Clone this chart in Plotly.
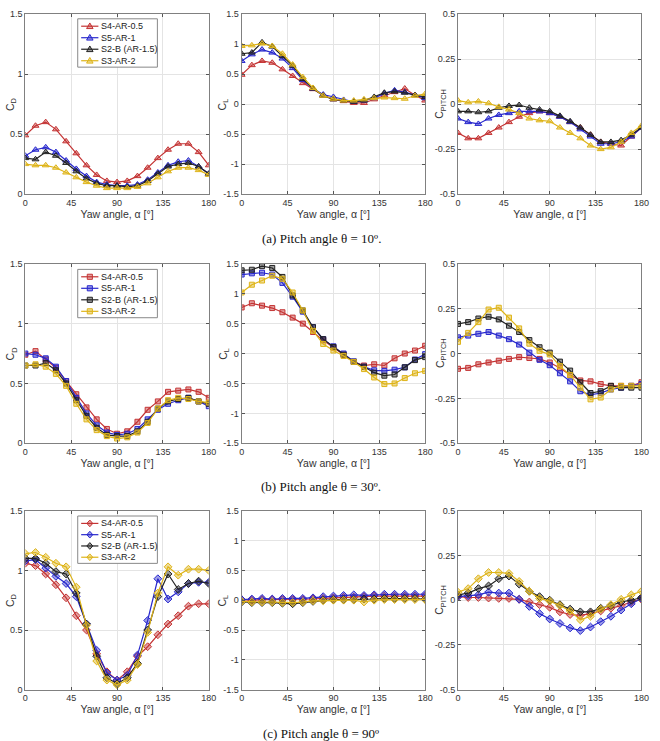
import plotly.graph_objects as go

# ---------------- data ----------------
yaw = [0, 10, 20, 30, 40, 50, 60, 70, 80, 90, 100, 110, 120, 130, 140, 150, 160, 170, 180]
series_names = ["S4-AR-0.5", "S5-AR-1", "S2-B (AR-1.5)", "S3-AR-2"]
x_ticks = [0, 45, 90, 135, 180]
cd_ticks = [0, 0.5, 1, 1.5]
cl_ticks = [-1.5, -1, -0.5, 0, 0.5, 1, 1.5]
cp_ticks = [-0.5, -0.25, 0, 0.25, 0.5]
captions = ["(a) Pitch angle θ = 10º.", "(b) Pitch angle θ = 30º.", "(c) Pitch angle θ = 90º"]

# Pitch 10 deg
cd10_s4 = [0.49, 0.57, 0.60, 0.54, 0.44, 0.34, 0.24, 0.16, 0.11, 0.10, 0.11, 0.15, 0.22, 0.30, 0.37, 0.42, 0.42, 0.35, 0.24]
cd10_s5 = [0.32, 0.37, 0.39, 0.35, 0.28, 0.21, 0.15, 0.10, 0.08, 0.07, 0.07, 0.08, 0.12, 0.18, 0.24, 0.27, 0.28, 0.23, 0.17]
cd10_s2 = [0.30, 0.29, 0.35, 0.32, 0.26, 0.19, 0.13, 0.09, 0.07, 0.07, 0.06, 0.07, 0.11, 0.17, 0.23, 0.25, 0.26, 0.23, 0.17]
cd10_s3 = [0.25, 0.24, 0.24, 0.22, 0.18, 0.14, 0.10, 0.07, 0.05, 0.05, 0.05, 0.06, 0.09, 0.14, 0.19, 0.22, 0.22, 0.20, 0.16]

cl10_s4 = [0.49, 0.65, 0.72, 0.69, 0.58, 0.47, 0.35, 0.25, 0.15, 0.08, 0.05, 0.02, 0.02, 0.08, 0.15, 0.20, 0.26, 0.15, 0.06]
cl10_s5 = [0.72, 0.83, 0.91, 0.86, 0.76, 0.60, 0.40, 0.26, 0.16, 0.12, 0.07, 0.04, 0.06, 0.10, 0.18, 0.23, 0.20, 0.15, 0.10]
cl10_s2 = [0.84, 0.86, 1.03, 0.96, 0.80, 0.64, 0.42, 0.26, 0.14, 0.08, 0.06, 0.04, 0.06, 0.12, 0.19, 0.21, 0.19, 0.15, 0.12]
cl10_s3 = [0.97, 0.98, 1.01, 0.97, 0.84, 0.66, 0.45, 0.27, 0.14, 0.09, 0.06, 0.06, 0.08, 0.10, 0.11, 0.10, 0.09, 0.14, 0.17]

cp10_s4 = [-0.16, -0.19, -0.19, -0.16, -0.13, -0.10, -0.07, -0.05, -0.04, -0.05, -0.07, -0.10, -0.13, -0.17, -0.21, -0.22, -0.23, -0.18, -0.13]
cp10_s5 = [-0.08, -0.10, -0.11, -0.08, -0.06, -0.05, -0.04, -0.04, -0.04, -0.05, -0.07, -0.10, -0.14, -0.18, -0.22, -0.22, -0.21, -0.18, -0.13]
cp10_s2 = [-0.04, -0.04, -0.045, -0.04, -0.02, -0.01, -0.005, -0.02, -0.03, -0.04, -0.065, -0.095, -0.13, -0.17, -0.21, -0.21, -0.20, -0.17, -0.13]
cp10_s3 = [0.02, 0.01, 0.015, 0.005, -0.015, -0.03, -0.05, -0.08, -0.09, -0.095, -0.13, -0.16, -0.19, -0.23, -0.25, -0.24, -0.21, -0.16, -0.12]

# Pitch 30 deg
cd30_s4 = [0.74, 0.77, 0.70, 0.63, 0.52, 0.41, 0.30, 0.20, 0.12, 0.08, 0.10, 0.18, 0.28, 0.35, 0.43, 0.44, 0.45, 0.43, 0.38]
cd30_s5 = [0.75, 0.74, 0.71, 0.64, 0.52, 0.38, 0.25, 0.15, 0.09, 0.07, 0.08, 0.12, 0.20, 0.28, 0.33, 0.36, 0.38, 0.35, 0.31]
cd30_s2 = [0.65, 0.65, 0.67, 0.61, 0.50, 0.36, 0.23, 0.13, 0.07, 0.06, 0.06, 0.10, 0.18, 0.29, 0.35, 0.37, 0.38, 0.35, 0.33]
cd30_s3 = [0.65, 0.66, 0.64, 0.58, 0.48, 0.33, 0.20, 0.11, 0.06, 0.04, 0.05, 0.09, 0.17, 0.29, 0.36, 0.38, 0.37, 0.35, 0.34]

cl30_s4 = [0.77, 0.84, 0.80, 0.76, 0.69, 0.60, 0.50, 0.36, 0.22, 0.10, -0.02, -0.14, -0.20, -0.18, -0.20, -0.08, 0.00, 0.05, 0.13]
cl30_s5 = [1.32, 1.34, 1.35, 1.32, 1.18, 0.95, 0.70, 0.44, 0.24, 0.12, 0.00, -0.13, -0.22, -0.28, -0.29, -0.27, -0.23, -0.10, -0.01]
cl30_s2 = [1.39, 1.40, 1.46, 1.43, 1.28, 0.97, 0.72, 0.44, 0.24, 0.11, -0.02, -0.14, -0.22, -0.32, -0.37, -0.35, -0.23, -0.11, -0.06]
cl30_s3 = [1.02, 1.15, 1.22, 1.30, 1.25, 1.02, 0.72, 0.38, 0.16, 0.05, -0.04, -0.14, -0.26, -0.40, -0.51, -0.50, -0.41, -0.33, -0.29]

cp30_s4 = [-0.085, -0.08, -0.06, -0.05, -0.04, -0.03, -0.02, -0.025, -0.03, -0.05, -0.08, -0.12, -0.15, -0.155, -0.17, -0.18, -0.18, -0.18, -0.16]
cp30_s5 = [0.09, 0.10, 0.11, 0.12, 0.10, 0.08, 0.05, 0.005, -0.035, -0.065, -0.11, -0.155, -0.21, -0.23, -0.22, -0.20, -0.19, -0.18, -0.17]
cp30_s2 = [0.165, 0.175, 0.195, 0.205, 0.19, 0.155, 0.12, 0.075, 0.035, 0.005, -0.045, -0.095, -0.16, -0.22, -0.21, -0.18, -0.19, -0.19, -0.19]
cp30_s3 = [0.065, 0.115, 0.175, 0.245, 0.255, 0.20, 0.14, 0.055, 0.015, -0.005, -0.07, -0.12, -0.19, -0.255, -0.245, -0.20, -0.18, -0.18, -0.18]

# Pitch 90 deg
cd90_s4 = [1.06, 1.04, 0.97, 0.88, 0.77, 0.62, 0.50, 0.30, 0.15, 0.08, 0.15, 0.28, 0.36, 0.46, 0.55, 0.62, 0.70, 0.72, 0.72]
cd90_s5 = [1.08, 1.09, 1.02, 0.95, 0.89, 0.78, 0.55, 0.33, 0.14, 0.08, 0.12, 0.29, 0.58, 0.93, 0.76, 0.82, 0.89, 0.90, 0.90]
cd90_s2 = [1.10, 1.10, 1.06, 0.99, 0.97, 0.81, 0.55, 0.28, 0.10, 0.05, 0.10, 0.22, 0.50, 0.78, 0.97, 0.84, 0.89, 0.91, 0.89]
cd90_s3 = [1.14, 1.15, 1.11, 1.06, 1.03, 0.86, 0.54, 0.24, 0.08, 0.04, 0.08, 0.21, 0.48, 0.81, 1.03, 0.96, 1.01, 1.01, 1.00]

cl90_s4 = [0.01, 0.00, 0.01, 0.01, 0.01, 0.01, 0.01, 0.02, 0.03, 0.04, 0.05, 0.05, 0.06, 0.07, 0.07, 0.07, 0.07, 0.07, 0.07]
cl90_s5 = [0.01, 0.02, 0.03, 0.02, 0.03, 0.03, 0.03, 0.04, 0.06, 0.07, 0.08, 0.09, 0.08, 0.09, 0.10, 0.10, 0.10, 0.10, 0.10]
cl90_s2 = [-0.03, -0.04, -0.04, -0.04, -0.05, -0.06, -0.04, -0.02, 0.00, 0.01, 0.01, 0.01, 0.02, 0.02, 0.03, 0.03, 0.03, 0.03, 0.02]
cl90_s3 = [-0.02, -0.03, -0.03, -0.03, -0.04, -0.04, -0.03, -0.01, -0.01, 0.00, 0.00, 0.00, -0.03, 0.00, 0.01, 0.01, 0.01, 0.01, 0.01]

cp90_s4 = [0.02, 0.015, 0.015, 0.012, 0.01, 0.01, 0.005, -0.01, -0.025, -0.04, -0.065, -0.08, -0.085, -0.075, -0.06, -0.045, -0.03, -0.01, 0.005]
cp90_s5 = [0.02, 0.025, 0.03, 0.045, 0.04, 0.04, 0.005, -0.035, -0.075, -0.105, -0.13, -0.155, -0.17, -0.15, -0.12, -0.09, -0.055, -0.02, 0.01]
cp90_s2 = [0.03, 0.04, 0.065, 0.08, 0.12, 0.135, 0.09, 0.05, 0.02, 0.0, -0.025, -0.05, -0.065, -0.065, -0.045, -0.03, -0.01, 0.0, 0.015]
cp90_s3 = [0.045, 0.065, 0.12, 0.155, 0.155, 0.15, 0.105, 0.05, 0.01, -0.005, -0.03, -0.06, -0.11, -0.09, -0.05, -0.025, 0.005, 0.03, 0.05]

# ---------------- styling ----------------
line_colors = ["rgb(196,52,52)", "rgb(40,40,205)", "rgb(35,35,35)", "rgb(222,180,25)"]
fill_colors = ["rgba(196,52,52,0.45)", "rgba(40,40,205,0.45)", "rgba(35,35,35,0.45)", "rgba(222,180,25,0.45)"]
row_symbols = ["triangle-up", "square", "diamond"]
row_msize = [6, 5, 6]

grid = [
    [[cd10_s4, cd10_s5, cd10_s2, cd10_s3], [cl10_s4, cl10_s5, cl10_s2, cl10_s3], [cp10_s4, cp10_s5, cp10_s2, cp10_s3]],
    [[cd30_s4, cd30_s5, cd30_s2, cd30_s3], [cl30_s4, cl30_s5, cl30_s2, cl30_s3], [cp30_s4, cp30_s5, cp30_s2, cp30_s3]],
    [[cd90_s4, cd90_s5, cd90_s2, cd90_s3], [cl90_s4, cl90_s5, cl90_s2, cl90_s3], [cp90_s4, cp90_s5, cp90_s2, cp90_s3]],
]

W, H = 660, 741
col_px = [(22.7, 209.3), (242.7, 429.3), (462.7, 649.3)]
row_px = [(9.3, 191.7), (262.3, 444.3), (512.7, 694.0)]
ytitle_x_px = [8, 224, 445]
legend_box_px = [(76, 14, 157, 63), (76, 268, 157, 317), (76, 518, 157, 566)]
caption_px = [237, 488, 738]

y_titles = ["C<sub>D</sub>", "C<sub>L</sub>", "C<sub>PITCH</sub>"]
y_ranges = [[0, 1.5], [-1.5, 1.5], [-0.5, 0.5]]
y_tickvals = [cd_ticks, cl_ticks, cp_ticks]
y_ticktext = [["0", "0.5", "1", "1.5"],
              ["-1.5", "-1", "-0.5", "0", "0.5", "1", "1.5"],
              ["-0.5", "-0.25", "0", "0.25", "0.5"]]

font_family = "Arial, Liberation Sans, sans-serif"


def px(x):
    return x / W


def py(y):
    return 1 - y / H


def marker_path(sym, cx, cy):
    if sym == "triangle-up":
        pts = [(cx, cy - 3.3), (cx - 3.3, cy + 2.4), (cx + 3.3, cy + 2.4)]
    elif sym == "square":
        pts = [(cx - 2.6, cy - 2.6), (cx + 2.6, cy - 2.6), (cx + 2.6, cy + 2.6), (cx - 2.6, cy + 2.6)]
    else:
        pts = [(cx, cy - 3.4), (cx + 3.0, cy), (cx, cy + 3.4), (cx - 3.0, cy)]
    return "M " + " L ".join(f"{px(a):.5f},{py(b):.5f}" for a, b in pts) + " Z"


fig = go.Figure()
layout = dict(
    width=W, height=H, margin=dict(l=0, r=0, t=0, b=0),
    paper_bgcolor="white", plot_bgcolor="white",
    font=dict(family=font_family, size=9, color="#333"),
    showlegend=False,
    annotations=[], shapes=[],
)

for r in range(3):
    for c in range(3):
        idx = r * 3 + c + 1
        xa = "x" if idx == 1 else f"x{idx}"
        ya = "y" if idx == 1 else f"y{idx}"
        for s in range(4):
            fig.add_trace(go.Scatter(
                x=yaw, y=grid[r][c][s], mode="lines+markers",
                name=series_names[s],
                xaxis=xa, yaxis=ya,
                line=dict(color=line_colors[s], width=1.2),
                marker=dict(symbol=row_symbols[r], size=row_msize[r], color=fill_colors[s],
                            line=dict(color=line_colors[s], width=1)),
                showlegend=False,
            ))
        x0, x1 = col_px[c]
        t, b = row_px[r]
        xkey = "xaxis" if idx == 1 else f"xaxis{idx}"
        ykey = "yaxis" if idx == 1 else f"yaxis{idx}"
        layout[xkey] = dict(
            domain=[px(x0), px(x1)], anchor=ya, range=[0, 180],
            tickvals=x_ticks, ticks="inside", ticklen=3, tickcolor="#555",
            showline=True, linecolor="#808080", linewidth=1, mirror="ticks",
            showgrid=True, gridcolor="#e4e4e4", gridwidth=1, zeroline=False,
            tickfont=dict(size=9, color="#333"),
            title=dict(text="Yaw angle, α [°]", font=dict(size=10.5, color="#333"), standoff=2),
        )
        layout[ykey] = dict(
            domain=[py(b), py(t)], anchor=xa, range=y_ranges[c],
            tickvals=y_tickvals[c], ticktext=y_ticktext[c],
            ticks="inside", ticklen=3, tickcolor="#555",
            showline=True, linecolor="#808080", linewidth=1, mirror="ticks",
            showgrid=True, gridcolor="#e4e4e4", gridwidth=1, zeroline=False,
            tickfont=dict(size=9, color="#333"),
        )
        layout["annotations"].append(dict(
            text=y_titles[c], x=px(ytitle_x_px[c]), y=py((t + b) / 2),
            xref="paper", yref="paper", xanchor="center", yanchor="middle",
            textangle=-90, showarrow=False,
            font=dict(size=10.5, color="#333", family=font_family),
        ))

    # legend box for this row (drawn in the first column)
    lx0, ly0, lx1, ly1 = legend_box_px[r]
    layout["shapes"].append(dict(
        type="rect", xref="paper", yref="paper",
        x0=px(lx0), x1=px(lx1), y0=py(ly1), y1=py(ly0),
        fillcolor="white", line=dict(color="#888", width=1), layer="above",
    ))
    step = (ly1 - ly0) / 4.2
    for s in range(4):
        cy = ly0 + 7.5 + s * step
        layout["shapes"].append(dict(
            type="line", xref="paper", yref="paper",
            x0=px(lx0 + 3.5), x1=px(lx0 + 21.0), y0=py(cy), y1=py(cy),
            line=dict(color=line_colors[s], width=1.2), layer="above",
        ))
        layout["shapes"].append(dict(
            type="path", xref="paper", yref="paper",
            path=marker_path(row_symbols[r], lx0 + 12.3, cy),
            fillcolor=fill_colors[s], line=dict(color=line_colors[s], width=1), layer="above",
        ))
        layout["annotations"].append(dict(
            text=series_names[s], x=px(lx0 + 22), y=py(cy),
            xref="paper", yref="paper", xanchor="left", yanchor="middle",
            showarrow=False, font=dict(size=9, color="#222", family=font_family),
        ))

    layout["annotations"].append(dict(
        text=captions[r], x=0.49, y=py(caption_px[r]), xref="paper", yref="paper",
        xanchor="center", yanchor="middle", showarrow=False,
        font=dict(family="Liberation Serif, Times New Roman, serif", size=13, color="#111"),
    ))

fig.update_layout(**layout)
fig.write_html("out.html")
